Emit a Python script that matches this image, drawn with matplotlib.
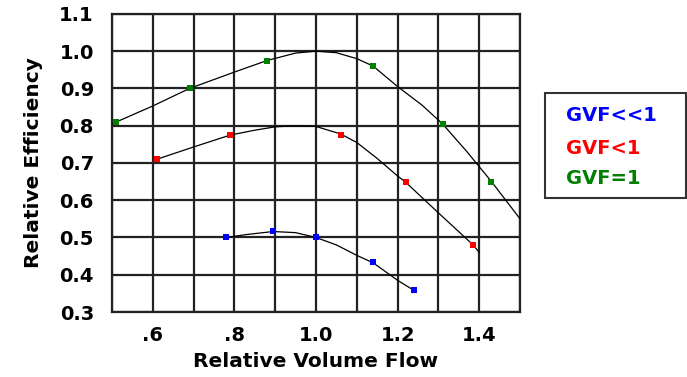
import matplotlib.pyplot as plt
from matplotlib.patches import Rectangle

# ---- DATA ----
# measured points
blue_x = [0.78, 0.895, 1.00, 1.14, 1.24]
blue_y = [0.50, 0.517, 0.50, 0.435, 0.36]
red_x = [0.61, 0.79, 1.06, 1.22, 1.385]
red_y = [0.71, 0.775, 0.775, 0.65, 0.48]
green_x = [0.51, 0.69, 0.88, 1.14, 1.31, 1.43]
green_y = [0.81, 0.90, 0.975, 0.96, 0.805, 0.65]

# drawn trend curves
blue_curve_x = [0.78, 0.83, 0.895, 0.95, 1.00, 1.05, 1.10, 1.14, 1.20, 1.24]
blue_curve_y = [0.50, 0.508, 0.516, 0.513, 0.50, 0.48, 0.452, 0.432, 0.385, 0.358]
red_curve_x = [0.61, 0.70, 0.79, 0.85, 0.90, 0.95, 1.00, 1.06, 1.10, 1.15, 1.20, 1.22, 1.30, 1.385, 1.40]
red_curve_y = [0.71, 0.743, 0.775, 0.788, 0.797, 0.80, 0.798, 0.778, 0.755, 0.712, 0.665, 0.648, 0.566, 0.48, 0.46]
green_curve_x = [0.50, 0.60, 0.69, 0.80, 0.88, 0.95, 1.00, 1.05, 1.10, 1.14, 1.20, 1.26, 1.31, 1.37, 1.43, 1.50]
green_curve_y = [0.805, 0.853, 0.90, 0.944, 0.975, 0.995, 1.0, 0.996, 0.98, 0.96, 0.905, 0.855, 0.805, 0.73, 0.65, 0.55]

x_ticks = [0.6, 0.8, 1.0, 1.2, 1.4]
x_tick_labels = [".6", ".8", "1.0", "1.2", "1.4"]
y_ticks = [0.3, 0.4, 0.5, 0.6, 0.7, 0.8, 0.9, 1.0, 1.1]
y_tick_labels = ["0.3", "0.4", "0.5", "0.6", "0.7", "0.8", "0.9", "1.0", "1.1"]
legend_labels = ["GVF<<1", "GVF<1", "GVF=1"]

BLUE, RED, GREEN = "#0000ff", "#ff0000", "#008000"
GRID = "#222222"

# ---- PLOT ----
fig = plt.figure(figsize=(6.87, 3.77), dpi=100)
ax = fig.add_axes([0.163, 0.1724, 0.594, 0.7906])

for cx, cy in [(blue_curve_x, blue_curve_y), (red_curve_x, red_curve_y),
               (green_curve_x, green_curve_y)]:
    ax.plot(cx, cy, color="black", lw=0.9, zorder=3)

for px, py, c in [(blue_x, blue_y, BLUE), (red_x, red_y, RED), (green_x, green_y, GREEN)]:
    ax.plot(px, py, "s", color=c, ms=4.3, mew=0, zorder=4)

ax.set_xlim(0.5, 1.5)
ax.set_ylim(0.3, 1.1)
ax.set_xticks([0.5 + 0.1 * i for i in range(11)], minor=True)
ax.set_xticks(x_ticks)
ax.set_xticklabels(x_tick_labels)
ax.set_yticks(y_ticks)
ax.set_yticklabels(y_tick_labels)
ax.grid(True, which="both", color=GRID, lw=1.6, zorder=1)
ax.set_axisbelow(True)
ax.tick_params(which="both", length=0)
ax.tick_params(axis="x", pad=10)
ax.tick_params(axis="y", pad=13)
for lab in ax.get_xticklabels() + ax.get_yticklabels():
    lab.set_fontsize(14)
    lab.set_fontweight("bold")
for s in ax.spines.values():
    s.set_color(GRID)
    s.set_linewidth(1.6)

ax.set_xlabel("Relative Volume Flow", fontsize=14.5, fontweight="bold", labelpad=5)
ax.set_ylabel("Relative Efficiency", fontsize=14.5, fontweight="bold", labelpad=12)

# legend box
W, H = 687, 377
fig.patches.append(Rectangle((545 / W, 1 - 198 / H), 141 / W, 105 / H,
                             transform=fig.transFigure, fill=False,
                             edgecolor="#333333", lw=1.5))
for lab, c, yp in zip(legend_labels, [BLUE, RED, GREEN], [115, 148, 178]):
    fig.text(566 / W, 1 - yp / H, lab, color=c, fontsize=14, fontweight="bold",
             va="center", ha="left")

plt.savefig("out.png", dpi=100)
